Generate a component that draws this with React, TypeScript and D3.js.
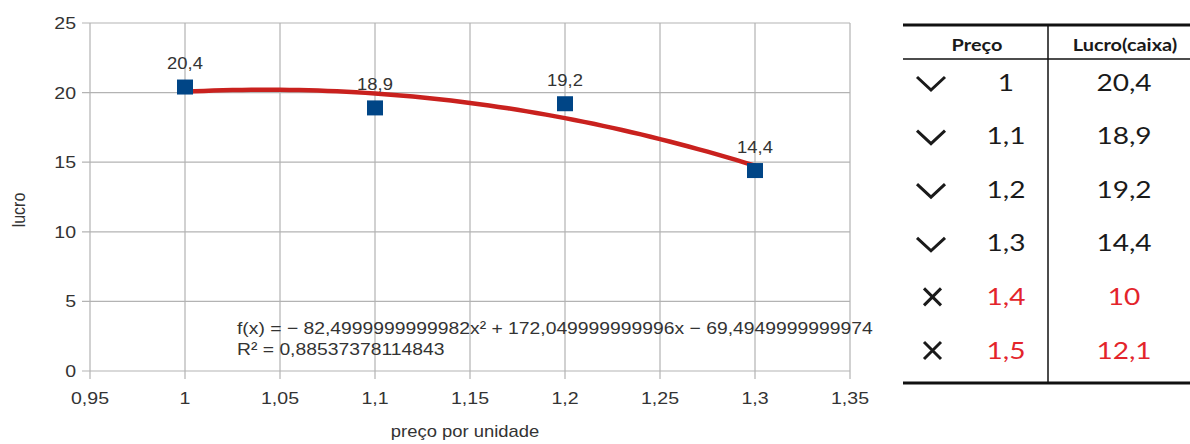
import React from "react";
import * as d3 from "d3";

// Scatter data: price per unit vs. profit
const precos = [1, 1.1, 1.2, 1.3];
const lucros = [20.4, 18.9, 19.2, 14.4];

// Axis ticks
const xTicks = [0.95, 1, 1.05, 1.1, 1.15, 1.2, 1.25, 1.3, 1.35];
const yTicks = [0, 5, 10, 15, 20, 25];

// Polynomial trend line (order 2) coefficients and fit quality
const trendA = -82.4999999999982;
const trendB = 172.049999999996;
const trendC = -69.4949999999974;
const trendR2 = "0,88537378114843";
const trendLabel = "f(x) = − 82,4999999999982x² + 172,049999999996x − 69,4949999999974";

// Side table
const tablePreco = ["1", "1,1", "1,2", "1,3", "1,4", "1,5"];
const tableLucro = ["20,4", "18,9", "19,2", "14,4", "10", "12,1"];
const tableOk = [true, true, true, true, false, false];

const W = 1190;
const H = 444;
const plot = { left: 90, right: 850, top: 23, bottom: 371 };

const ptLocale = d3.formatLocale({ decimal: ",", thousands: ".", grouping: [3], currency: ["R$", ""] });
const fmt = (v: number) => ptLocale.format("~g")(v);

const FONT = "'Liberation Sans', Arial, sans-serif";
const TFONT = "Lato, 'Open Sans', sans-serif";
const SX = 1.15;

function T(props: {
  x: number;
  y: number;
  children: React.ReactNode;
  size?: number;
  anchor?: "start" | "middle" | "end";
  fill?: string;
  sx?: number;
  family?: string;
  weight?: number | string;
  rotate?: number;
}) {
  const { x, y, children, size = 17, anchor = "middle", fill = "#333", sx = SX, family = FONT, weight = 400, rotate = 0 } = props;
  const tr = rotate ? `translate(${x},${y}) rotate(${rotate}) scale(1,${sx})` : `translate(${x},${y}) scale(${sx},1)`;
  return (
    <text transform={tr} textAnchor={anchor} fontSize={size} fill={fill} fontFamily={family} fontWeight={weight}>
      {children}
    </text>
  );
}

export default function App() {
  const x = d3.scaleLinear().domain([0.95, 1.35]).range([plot.left, plot.right]);
  const y = d3.scaleLinear().domain([0, 25]).range([plot.bottom, plot.top]);

  const trendPts = d3.range(0, 61).map((i) => {
    const xv = 1 + (0.3 * i) / 60;
    return [xv, trendA * xv * xv + trendB * xv + trendC] as [number, number];
  });
  const trendPath = d3
    .line<[number, number]>()
    .x((d) => x(d[0]))
    .y((d) => y(d[1]))(trendPts) as string;

  const grid = "#b3b3b3";

  // table layout
  const tL = 903;
  const tR = 1190;
  const tTop = 25;
  const tHead = 59;
  const tBot = 383;
  const tDiv = 1048;
  const row = d3.scaleLinear().domain([0, 5]).range([82, 350]);

  return (
    <svg width={W} height={H} style={{ position: "absolute", left: 0, top: 0, background: "#fff" }}>
      {/* gridlines and ticks */}
      {yTicks.map((t) => (
        <line key={"gy" + t} x1={plot.left - 8} x2={plot.right} y1={y(t)} y2={y(t)} stroke={grid} strokeWidth={1.2} />
      ))}
      {xTicks.map((t) => (
        <line key={"gx" + t} x1={x(t)} x2={x(t)} y1={plot.top} y2={plot.bottom + 8} stroke={grid} strokeWidth={1.2} />
      ))}

      {/* tick labels */}
      {yTicks.map((t) => (
        <T key={"ly" + t} x={76} y={y(t) + 6} anchor="end">
          {fmt(t)}
        </T>
      ))}
      {xTicks.map((t) => (
        <T key={"lx" + t} x={x(t)} y={404}>
          {fmt(t)}
        </T>
      ))}

      {/* axis titles */}
      <T x={465} y={437} size={16}>
        preço por unidade
      </T>
      <T x={25} y={210} size={16} rotate={-90}>
        lucro
      </T>

      {/* trend line */}
      <path d={trendPath} fill="none" stroke="#c9211e" strokeWidth={4.5} strokeLinecap="round" />

      {/* points */}
      {precos.map((p, i) => (
        <rect key={"p" + i} x={x(p) - 8} y={y(lucros[i]) - 7.5} width={16} height={15} fill="#004586" />
      ))}
      {precos.map((p, i) => (
        <T key={"dl" + i} x={x(p)} y={y(lucros[i]) - 18} size={16}>
          {fmt(lucros[i])}
        </T>
      ))}

      {/* trend equation */}
      <T x={237} y={334} size={16.8} anchor="start">
        {trendLabel}
      </T>
      <T x={237} y={355} size={16.8} anchor="start">
        {"R² = " + trendR2}
      </T>

      {/* table */}
      <line x1={tL} x2={tR} y1={tTop} y2={tTop} stroke="#111" strokeWidth={3} />
      <line x1={tL} x2={tR} y1={tHead} y2={tHead} stroke="#111" strokeWidth={1.5} />
      <line x1={tL} x2={tR} y1={tBot} y2={tBot} stroke="#111" strokeWidth={3} />
      <line x1={tDiv} x2={tDiv} y1={tTop} y2={tBot} stroke="#111" strokeWidth={1.5} />
      <T x={977} y={51} size={17} family={TFONT} weight={700} fill="#1a1a1a" sx={1.17}>
        Preço
      </T>
      <T x={1125} y={51} size={17} family={TFONT} weight={700} fill="#1a1a1a" sx={1.17}>
        Lucro(caixa)
      </T>
      {tablePreco.map((p, i) => {
        const cy = row(i);
        const col = tableOk[i] ? "#1a1a1a" : "#e3242b";
        return (
          <g key={"r" + i}>
            {tableOk[i] ? (
              <path d={`M917,${cy - 5} L931,${cy + 8} L945,${cy - 5}`} fill="none" stroke="#1a1a1a" strokeWidth={3} />
            ) : (
              <path
                d={`M924,${cy - 8} L941,${cy + 9} M941,${cy - 8} L924,${cy + 9}`}
                fill="none"
                stroke="#1a1a1a"
                strokeWidth={3}
              />
            )}
            <T x={1006} y={cy + 8.5} size={23} family={TFONT} fill={col} sx={1.22}>
              {p}
            </T>
            <T x={1124} y={cy + 8.5} size={23} family={TFONT} fill={col} sx={1.22}>
              {tableLucro[i]}
            </T>
          </g>
        );
      })}
    </svg>
  );
}
